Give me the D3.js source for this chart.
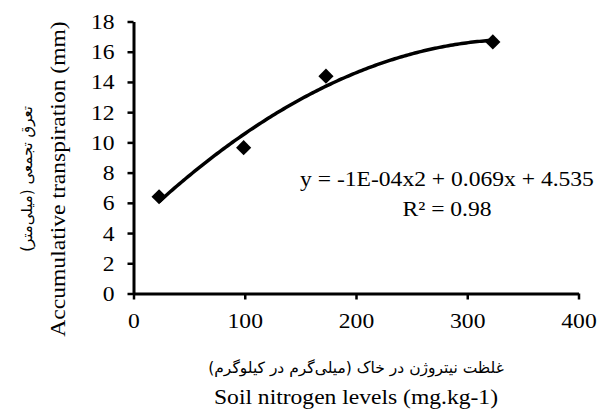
<!DOCTYPE html>
<html>
<head>
<meta charset="utf-8">
<script src="https://cdn.jsdelivr.net/npm/d3@7"></script>
<style>
  body { margin: 0; background: #fff; }
  svg { display: block; }
  text { font-family: "Liberation Serif", "Times New Roman", "DejaVu Sans", serif; fill: #000; }
  .fa { font-family: "DejaVu Sans", sans-serif; }
</style>
</head>
<body>
<div id="chart"></div>
<script>
// data
var nitrogen = [23, 99, 173, 323];
var transpiration = [6.4, 9.65, 14.38, 16.65];
var xTicks = [0, 100, 200, 300, 400];
var yTicks = [0, 2, 4, 6, 8, 10, 12, 14, 16, 18];
var eqText = "y = -1E-04x2 + 0.069x + 4.535";
var r2Text = "R\u00B2 = 0.98";
var xTitleFa = "غلظت نیتروژن در خاک (میلی\u200Cگرم در کیلوگرم)";
var xTitleEn = "Soil nitrogen levels (mg.kg-1)";
var yTitleFa = "تعرق تجمعی (میلی\u200Cمتر)";
var yTitleEn = "Accumulative transpiration (mm)";

var W = 601, H = 418,
    margin = { top: 21.5, right: 22.5, bottom: 124.5, left: 133.5 },
    width = W - margin.left - margin.right,
    height = H - margin.top - margin.bottom,
    fs = '20.5px',
    stretch = 1.15;   // the text in the picture is a bit wide

var svg = d3.select('#chart').append('svg')
    .attr('width', W)
    .attr('height', H);

svg.append('rect').attr('width', W).attr('height', H).attr('fill', '#fff');

var g = svg.append('g')
    .attr('transform', 'translate(' + margin.left + ',' + margin.top + ')');

var x = d3.scaleLinear().domain([0, 400]).range([0, width]);
var y = d3.scaleLinear().domain([0, 18]).range([height, 0]);

// axes
var yAxis = g.append('g')
    .call(d3.axisLeft(y).tickValues(yTicks).tickSize(6).tickSizeOuter(0));
yAxis.selectAll('text')
    .attr('x', 0).attr('dy', '0.34em')
    .attr('transform', 'translate(-19,0) scale(' + stretch + ',1)')
    .style('font-size', fs);

var xAxis = g.append('g')
    .attr('transform', 'translate(0,' + height + ')')
    .call(d3.axisBottom(x).tickValues(xTicks).tickSize(6).tickSizeOuter(0));
xAxis.selectAll('text')
    .attr('y', 0).attr('dy', '0.35em')
    .attr('transform', 'translate(0,27) scale(' + stretch + ',1)')
    .style('font-size', fs);

g.selectAll('.domain').attr('stroke', '#000').attr('stroke-width', 3);
g.selectAll('.tick line').attr('stroke', '#000').attr('stroke-width', 2.5);

// quadratic least squares fit of the points, like the excel trendline
function quadFit(xs, ys) {
  var n = xs.length, s = [0, 0, 0, 0, 0], t = [0, 0, 0];
  for (var i = 0; i < n; i++) {
    var p = 1;
    for (var k = 0; k < 5; k++) { s[k] += p; if (k < 3) t[k] += p * ys[i]; p *= xs[i]; }
  }
  var A = [[s[0], s[1], s[2], t[0]], [s[1], s[2], s[3], t[1]], [s[2], s[3], s[4], t[2]]];
  for (var c = 0; c < 3; c++) {
    for (var r = c + 1; r < 3; r++) {
      var f = A[r][c] / A[c][c];
      for (var j = c; j < 4; j++) A[r][j] -= f * A[c][j];
    }
  }
  var b = [0, 0, 0];
  for (var r2 = 2; r2 >= 0; r2--) {
    var v = A[r2][3];
    for (var j2 = r2 + 1; j2 < 3; j2++) v -= A[r2][j2] * b[j2];
    b[r2] = v / A[r2][r2];
  }
  return function(xv) { return b[0] + b[1] * xv + b[2] * xv * xv; };
}

var fit = quadFit(nitrogen, transpiration);
var xs = d3.range(d3.min(nitrogen), d3.max(nitrogen) + 0.5, 2);

g.append('path')
    .datum(xs)
    .attr('fill', 'none')
    .attr('stroke', '#000')
    .attr('stroke-width', 3.5)
    .attr('d', d3.line().x(function(d) { return x(d); }).y(function(d) { return y(fit(d)); }));

g.selectAll('.pt')
    .data(nitrogen)
    .enter().append('path')
    .attr('class', 'pt')
    .attr('d', d3.symbol(d3.symbolSquare, 115))
    .attr('transform', function(d, i) {
      return 'translate(' + x(d) + ',' + y(transpiration[i]) + ') rotate(45)';
    })
    .attr('fill', '#000');

// trendline label
var eq = g.append('g').attr('transform', 'translate(' + (447 - margin.left) + ',0)');
eq.append('text')
    .attr('text-anchor', 'middle')
    .attr('transform', 'translate(0,' + (186 - margin.top) + ') scale(' + stretch + ',1)')
    .style('font-size', fs)
    .text(eqText);
eq.append('text')
    .attr('text-anchor', 'middle')
    .attr('transform', 'translate(0,' + (216 - margin.top) + ') scale(' + stretch + ',1)')
    .style('font-size', fs)
    .text(r2Text);

// axis titles
var cx = margin.left + width / 2;
svg.append('text')
    .attr('class', 'fa')
    .attr('text-anchor', 'middle')
    .attr('direction', 'rtl')
    .attr('transform', 'translate(' + cx + ',373)')
    .style('font-size', '15.5px')
    .text(xTitleFa);
svg.append('text')
    .attr('text-anchor', 'middle')
    .attr('transform', 'translate(' + cx + ',404) scale(' + stretch + ',1)')
    .style('font-size', fs)
    .text(xTitleEn);

var cy = 179;
svg.append('text')
    .attr('class', 'fa')
    .attr('text-anchor', 'middle')
    .attr('direction', 'rtl')
    .attr('transform', 'translate(32,' + cy + ') rotate(-90)')
    .style('font-size', '15px')
    .text(yTitleFa);
svg.append('text')
    .attr('text-anchor', 'middle')
    .attr('transform', 'translate(65,' + cy + ') rotate(-90) scale(' + stretch + ',1)')
    .style('font-size', fs)
    .text(yTitleEn);
</script>
</body>
</html>
